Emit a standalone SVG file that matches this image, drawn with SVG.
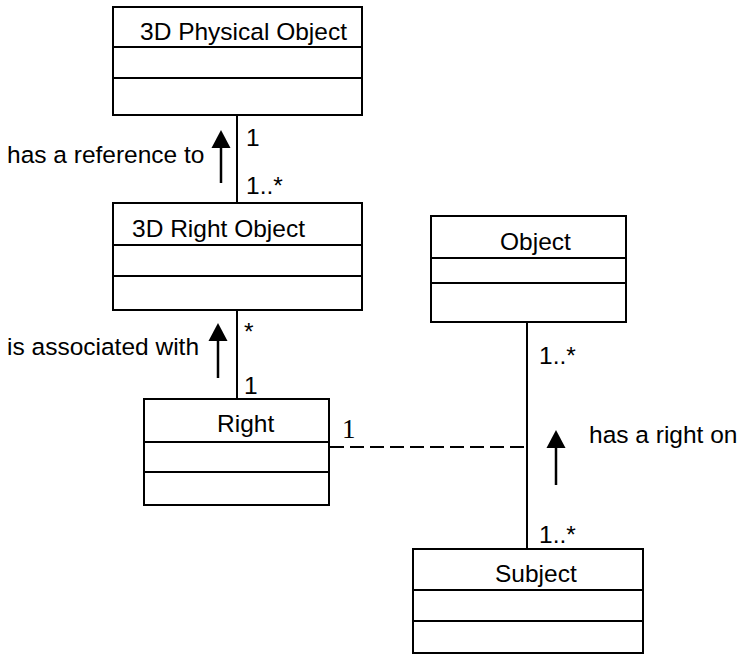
<svg xmlns="http://www.w3.org/2000/svg" width="740" height="654" viewBox="0 0 740 654">
<style>
.box{fill:#fff;stroke:#000;stroke-width:2}
.div{stroke:#000;stroke-width:2}
.t{font-family:"Liberation Sans",Arial,sans-serif;font-size:24.5px;fill:#000}
.s{font-family:"Liberation Serif","Times New Roman",serif;font-size:27px;fill:#000}
.ln{stroke:#000;stroke-width:2;fill:none}
.dash{stroke:#000;stroke-width:2;fill:none;stroke-dasharray:14 6}
.arr{stroke:#000;stroke-width:2.5;fill:none}
.head{fill:#000}
</style>
<rect width="740" height="654" fill="#fff"/>
<g id="connectors">
<line class="ln" x1="237" y1="115" x2="237" y2="203"/>
<line class="ln" x1="237" y1="310" x2="237" y2="399"/>
<line class="ln" x1="527" y1="322" x2="527" y2="549"/>
<line class="dash" x1="330" y1="447" x2="527" y2="447"/>
<text class="t" x="246" y="146">1</text>
<text class="t" x="246" y="194">1..*</text>
<text class="t" x="244" y="340">*</text>
<text class="t" x="244" y="394">1</text>
<text class="t" x="539" y="364">1..*</text>
<text class="t" x="539" y="543">1..*</text>
<text class="s" x="342" y="438">1</text>
</g>
<g id="label-reference">
<text class="t" x="7" y="163">has a reference to</text>
<line class="arr" x1="221" y1="145" x2="221" y2="183"/>
<polygon class="head" points="221,130 211.5,148 230.5,148"/>
</g>
<g id="label-associated">
<text class="t" x="7" y="355">is associated with</text>
<line class="arr" x1="218" y1="340" x2="218" y2="378"/>
<polygon class="head" points="218,323 208.5,341 227.5,341"/>
</g>
<g id="label-right-on">
<text class="t" x="589" y="443">has a right on</text>
<line class="arr" x1="556" y1="447" x2="556" y2="485"/>
<polygon class="head" points="556,430 546.5,448 565.5,448"/>
</g>
<g id="node-3d-physical-object">
<rect class="box" x="113" y="7" width="249" height="108"/>
<line class="div" x1="113" y1="47" x2="362" y2="47"/>
<line class="div" x1="113" y1="78" x2="362" y2="78"/>
<text class="t" x="140" y="40">3D Physical Object</text>
</g>
<g id="node-3d-right-object">
<rect class="box" x="113" y="203" width="249" height="107"/>
<line class="div" x1="113" y1="245" x2="362" y2="245"/>
<line class="div" x1="113" y1="276" x2="362" y2="276"/>
<text class="t" x="132" y="237">3D Right Object</text>
</g>
<g id="node-right">
<rect class="box" x="144" y="399" width="185" height="106"/>
<line class="div" x1="144" y1="442" x2="329" y2="442"/>
<line class="div" x1="144" y1="472" x2="329" y2="472"/>
<text class="t" x="217" y="432">Right</text>
</g>
<g id="node-object">
<rect class="box" x="431" y="216" width="195" height="106"/>
<line class="div" x1="431" y1="258" x2="626" y2="258"/>
<line class="div" x1="431" y1="283" x2="626" y2="283"/>
<text class="t" x="500" y="250">Object</text>
</g>
<g id="node-subject">
<rect class="box" x="413" y="549" width="230" height="104"/>
<line class="div" x1="413" y1="590" x2="643" y2="590"/>
<line class="div" x1="413" y1="621" x2="643" y2="621"/>
<text class="t" x="495" y="582">Subject</text>
</g>
</svg>
